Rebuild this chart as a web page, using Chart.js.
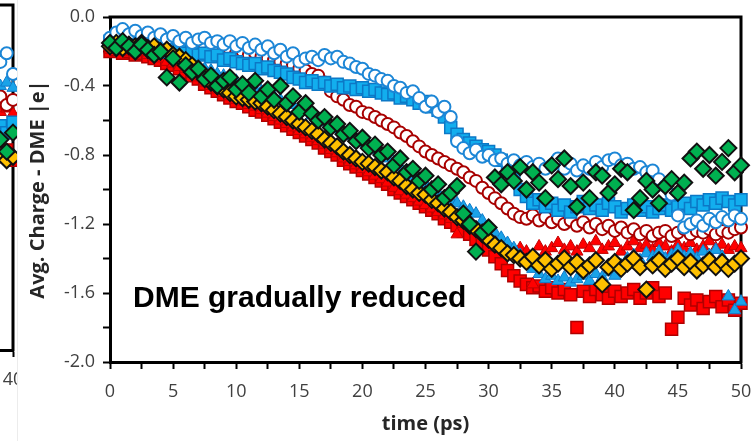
<!DOCTYPE html>
<html>
<head>
<meta charset="utf-8">
<script src="https://cdn.jsdelivr.net/npm/chart.js@4.4.1/dist/chart.umd.min.js"></script>
<style>
  html, body { margin: 0; padding: 0; background: #fff; }
  #wrap { position: relative; width: 753px; height: 441px; overflow: hidden; }
  #left { position: absolute; left: 0; top: 0; width: 17px; height: 441px; overflow: hidden; }
  #left canvas { position: absolute; left: -582px; top: 0; }
  #edge { position: absolute; left: 17px; top: 0; width: 1px; height: 441px; background: #ececec; }
  #main { position: absolute; left: 18px; top: 0; width: 735px; height: 441px; }
</style>
</head>
<body>
<div id="wrap">
  <div id="left"><canvas id="chart-left" width="600" height="441"></canvas></div>
  <div id="edge"></div>
  <div id="main"><canvas id="chart-main" width="735" height="441"></canvas></div>
</div>
<script>
// time axis, 0.5 ps steps
const times = [
  0, 0.5, 1, 1.5, 2, 2.5, 3, 3.5, 4, 4.5,
  5, 5.5, 6, 6.5, 7, 7.5, 8, 8.5, 9, 9.5,
  10, 10.5, 11, 11.5, 12, 12.5, 13, 13.5, 14, 14.5,
  15, 15.5, 16, 16.5, 17, 17.5, 18, 18.5, 19, 19.5,
  20, 20.5, 21, 21.5, 22, 22.5, 23, 23.5, 24, 24.5,
  25, 25.5, 26, 26.5, 27, 27.5, 28, 28.5, 29, 29.5,
  30, 30.5, 31, 31.5, 32, 32.5, 33, 33.5, 34, 34.5,
  35, 35.5, 36, 36.5, 37, 37.5, 38, 38.5, 39, 39.5,
  40, 40.5, 41, 41.5, 42, 42.5, 43, 43.5, 44, 44.5,
  45, 45.5, 46, 46.5, 47, 47.5, 48, 48.5, 49, 49.5,
  50
];

const greenDiamonds = [
  -0.15, -0.18, -0.14, -0.17, -0.20, -0.16, -0.19, -0.22, -0.20, -0.35,
  -0.24, -0.38, -0.28, -0.32, -0.30, -0.36, -0.34, -0.40, -0.37, -0.35,
  -0.42, -0.39, -0.44, -0.37, -0.46, -0.42, -0.48, -0.40, -0.50, -0.46,
  -0.55, -0.50, -0.56, -0.60, -0.58, -0.64, -0.62, -0.68, -0.66, -0.72,
  -0.70, -0.76, -0.74, -0.80, -0.78, -0.86, -0.82, -0.90, -0.88, -0.95,
  -0.92, -1.00, -0.97, -1.05, -1.02, -0.98, -1.14, -1.20, -1.36, -1.25,
  -1.22, -0.93, -0.97, -0.90, -0.95, -0.87, -1.00, -0.90, -0.96, -1.05,
  -0.86, -0.94, -0.82, -0.98, -1.10, -0.96, -1.05, -0.90, -0.92, -1.02,
  -0.97, -0.88, -0.90, -1.12, -1.05, -0.95, -1.00, -1.08, -0.98, -0.94,
  -1.02, -0.96, -0.82, -0.78, -0.88, -0.80, -0.92, -0.84, -0.76, -0.90,
  -0.86
];

const yellowDiamonds = [
  -0.17, -0.15, -0.18, -0.16, -0.17, -0.15, -0.18, -0.17, -0.20, -0.19,
  -0.22, -0.23, -0.25, -0.28, -0.31, -0.34, -0.38, -0.40, -0.42, -0.44,
  -0.46, -0.47, -0.48, -0.49, -0.50, -0.52, -0.54, -0.56, -0.58, -0.60,
  -0.62, -0.64, -0.66, -0.68, -0.71, -0.73, -0.75, -0.78, -0.80, -0.82,
  -0.84, -0.85, -0.87, -0.89, -0.90, -0.93, -0.95, -0.98, -1.00, -1.02,
  -1.03, -1.06, -1.08, -1.11, -1.13, -1.16, -1.18, -1.21, -1.23, -1.26,
  -1.29, -1.32, -1.34, -1.37, -1.38, -1.40, -1.42, -1.39, -1.44, -1.41,
  -1.46, -1.43, -1.40, -1.45, -1.42, -1.47, -1.44, -1.41, -1.55, -1.45,
  -1.42, -1.46, -1.43, -1.40, -1.45, -1.58, -1.44, -1.41, -1.46, -1.43,
  -1.40, -1.45, -1.42, -1.47, -1.44, -1.41, -1.45, -1.42, -1.46, -1.43,
  -1.40
];

const blueCircles = [
  -0.12, -0.09, -0.07, -0.10, -0.08, -0.11, -0.09, -0.12, -0.10, -0.13,
  -0.11, -0.14, -0.12, -0.15, -0.13, -0.12, -0.15, -0.14, -0.16, -0.14,
  -0.17, -0.15, -0.18, -0.16, -0.19, -0.17, -0.21, -0.19, -0.23, -0.21,
  -0.26, -0.24, -0.23, -0.25, -0.22, -0.24, -0.23, -0.26, -0.27, -0.29,
  -0.30, -0.33, -0.34, -0.36, -0.37, -0.40, -0.41, -0.44, -0.43, -0.47,
  -0.52, -0.49, -0.55, -0.52, -0.58, -0.72, -0.76, -0.79, -0.77, -0.81,
  -0.80, -0.83, -0.82, -0.85, -0.83, -0.86, -0.84, -0.87, -0.85, -0.88,
  -0.86, -0.82, -0.88, -0.85, -0.89, -0.86, -0.88, -0.84, -0.87, -0.83,
  -0.82, -0.86, -0.85, -0.88, -0.87, -0.90, -0.89, -0.94, -0.98, -1.03,
  -1.15, -1.22, -1.20, -1.18, -1.21, -1.17, -1.19, -1.16, -1.18, -1.15,
  -1.17
];

const blueTriangles = [
  -0.16, -0.14, -0.17, -0.16, -0.18, -0.17, -0.19, -0.20, -0.21, -0.22,
  -0.23, -0.24, -0.25, -0.27, -0.28, -0.30, -0.31, -0.33, -0.34, -0.36,
  -0.37, -0.39, -0.40, -0.42, -0.43, -0.45, -0.46, -0.48, -0.49, -0.51,
  -0.53, -0.55, -0.57, -0.59, -0.61, -0.63, -0.65, -0.67, -0.69, -0.71,
  -0.73, -0.74, -0.77, -0.79, -0.82, -0.84, -0.87, -0.89, -0.92, -0.94,
  -0.97, -0.99, -1.02, -1.04, -1.06, -1.08, -1.10, -1.12, -1.14, -1.18,
  -1.22, -1.25, -1.28, -1.31, -1.34, -1.38, -1.42, -1.46, -1.49, -1.52,
  -1.50, -1.53, -1.51, -1.54, -1.52, -1.50, -1.53, -1.49, -1.51, -1.48,
  -1.50, -1.44, -1.40, -1.38, -1.41, -1.37, -1.39, -1.36, -1.40, -1.38,
  -1.35, -1.39, -1.37, -1.40, -1.36, -1.38, -1.35, -1.39, -1.62, -1.70,
  -1.65
];

const blueSquares = [
  -0.14, -0.12, -0.15, -0.13, -0.16, -0.15, -0.17, -0.16, -0.18, -0.17,
  -0.20, -0.19, -0.21, -0.20, -0.22, -0.21, -0.23, -0.22, -0.25, -0.24,
  -0.26, -0.27, -0.28, -0.27, -0.30, -0.29, -0.31, -0.32, -0.33, -0.35,
  -0.36, -0.38, -0.37, -0.39, -0.38, -0.40, -0.39, -0.41, -0.40, -0.42,
  -0.41, -0.43, -0.42, -0.44, -0.45, -0.44, -0.47, -0.46, -0.48, -0.50,
  -0.49, -0.52, -0.54, -0.58, -0.64, -0.68, -0.71, -0.73, -0.75, -0.77,
  -0.78, -0.80, -0.83, -0.88, -0.94, -1.00, -1.04, -1.08, -1.06, -1.10,
  -1.08, -1.12, -1.09, -1.13, -1.10, -1.07, -1.11, -1.09, -1.12, -1.08,
  -1.10, -1.13, -1.11, -1.09, -1.12, -1.10, -1.13, -1.11, -1.09, -1.12,
  -1.10, -1.08, -1.11, -1.07, -1.09, -1.06, -1.08, -1.05, -1.07, -1.09,
  -1.06
];

const redCircles = [
  -0.13, -0.11, -0.12, -0.10, -0.13, -0.12, -0.14, -0.13, -0.15, -0.14,
  -0.16, -0.15, -0.17, -0.16, -0.18, -0.17, -0.19, -0.18, -0.20, -0.19,
  -0.21, -0.20, -0.22, -0.21, -0.23, -0.24, -0.25, -0.26, -0.27, -0.28,
  -0.30, -0.31, -0.33, -0.34, -0.38, -0.43, -0.46, -0.48, -0.51, -0.52,
  -0.55, -0.56, -0.58, -0.60, -0.62, -0.64, -0.67, -0.69, -0.72, -0.75,
  -0.78, -0.80, -0.82, -0.84, -0.86, -0.88, -0.90, -0.93, -0.95, -0.99,
  -1.02, -1.05, -1.08, -1.11, -1.14, -1.16, -1.17, -1.15, -1.18, -1.16,
  -1.19, -1.17, -1.20, -1.18, -1.21, -1.19, -1.22, -1.20, -1.23, -1.21,
  -1.24, -1.22, -1.25, -1.23, -1.26, -1.24, -1.27, -1.25, -1.24, -1.27,
  -1.25, -1.23, -1.26, -1.24, -1.25, -1.23, -1.26, -1.24, -1.25, -1.23,
  -1.22
];

const redTriangles = [
  -0.19, -0.17, -0.20, -0.19, -0.21, -0.20, -0.22, -0.23, -0.24, -0.26,
  -0.27, -0.29, -0.30, -0.33, -0.35, -0.38, -0.40, -0.42, -0.44, -0.46,
  -0.48, -0.49, -0.51, -0.52, -0.54, -0.56, -0.58, -0.60, -0.62, -0.64,
  -0.66, -0.68, -0.70, -0.72, -0.74, -0.77, -0.79, -0.82, -0.84, -0.86,
  -0.88, -0.90, -0.92, -0.94, -0.96, -0.99, -1.01, -1.03, -1.05, -1.07,
  -1.09, -1.11, -1.13, -1.15, -1.17, -1.26, -1.20, -1.22, -1.24, -1.26,
  -1.28, -1.30, -1.32, -1.33, -1.35, -1.34, -1.36, -1.55, -1.33, -1.36,
  -1.34, -1.31, -1.35, -1.33, -1.36, -1.32, -1.34, -1.30, -1.35, -1.33,
  -1.31, -1.36, -1.33, -1.30, -1.34, -1.32, -1.35, -1.31, -1.33, -1.36,
  -1.32, -1.34, -1.31, -1.35, -1.33, -1.30, -1.34, -1.32, -1.35, -1.33,
  -1.34
];

const redSquares = [
  -0.20, -0.19, -0.21, -0.20, -0.22, -0.21, -0.23, -0.24, -0.25, -0.27,
  -0.28, -0.30, -0.32, -0.34, -0.36, -0.39, -0.41, -0.43, -0.45, -0.47,
  -0.49, -0.50, -0.52, -0.54, -0.55, -0.57, -0.59, -0.61, -0.63, -0.65,
  -0.67, -0.69, -0.71, -0.73, -0.76, -0.78, -0.80, -0.83, -0.85, -0.87,
  -0.89, -0.91, -0.93, -0.95, -0.97, -1.00, -1.02, -1.04, -1.06, -1.08,
  -1.10, -1.12, -1.14, -1.17, -1.19, -1.21, -1.24, -1.26, -1.29, -1.32,
  -1.35, -1.39, -1.43, -1.47, -1.50, -1.53, -1.55, -1.57, -1.56, -1.59,
  -1.57, -1.60, -1.58, -1.61, -1.80, -1.59, -1.62, -1.58, -1.61, -1.63,
  -1.59, -1.62, -1.60, -1.58, -1.63, -1.60, -1.57, -1.62, -1.60, -1.81,
  -1.74, -1.63, -1.67, -1.64, -1.69, -1.65, -1.62, -1.68, -1.64, -1.70,
  -1.66
];

// the neighbouring panel, only its right edge is in the picture
const leftTimes = [39, 39.5, 40];
const leftGreen = [-0.78, -0.85, -0.74];
const leftYellow = [-0.86, -0.90, -0.88];
const leftBlueCircles = [-0.33, -0.28, -0.40];
const leftBlueTriangles = [-0.47, -0.45, -0.48];
const leftBlueSquares = [-0.70, -0.74, -0.68];
const leftRedCircles = [-0.53, -0.58, -0.55];
const leftRedTriangles = [-0.62, -0.60, -0.63];
const leftRedSquares = [-0.88, -0.84, -0.90];

const xTickValues = [0, 2.5, 5, 7.5, 10, 12.5, 15, 17.5, 20, 22.5, 25, 27.5, 30, 32.5, 35, 37.5, 40, 42.5, 45, 47.5, 50];
const xLabelValues = [0, 5, 10, 15, 20, 25, 30, 35, 40, 45, 50];
const yTickValues = [0, -0.2, -0.4, -0.6, -0.8, -1.0, -1.2, -1.4, -1.6, -1.8, -2.0];
const yLabelValues = [0, -0.4, -0.8, -1.2, -1.6, -2.0];

const xTitle = 'time (ps)';
const yTitle = 'Avg. Charge - DME |e|';
const noteText = 'DME gradually reduced';

const STYLES = {
  green:   { pointStyle: 'rectRot',  pointRadius: 8,   backgroundColor: '#00B050', borderColor: '#111', borderWidth: 2 },
  yellow:  { pointStyle: 'rectRot',  pointRadius: 8,   backgroundColor: '#FFC000', borderColor: '#111', borderWidth: 2 },
  bCircle: { pointStyle: 'circle',   pointRadius: 6,   backgroundColor: '#fff',    borderColor: '#1C86D6', borderWidth: 2 },
  bTri:    { pointStyle: 'triangle', pointRadius: 7,   backgroundColor: '#1AA3E8', borderColor: '#0E7ACB', borderWidth: 1 },
  bSquare: { pointStyle: 'rect',     pointRadius: 8.5, backgroundColor: '#12AEEE', borderColor: '#0C78C6', borderWidth: 1.5 },
  rCircle: { pointStyle: 'circle',   pointRadius: 6,   backgroundColor: '#fff',    borderColor: '#A80000', borderWidth: 2 },
  rTri:    { pointStyle: 'triangle', pointRadius: 7,   backgroundColor: '#FF0000', borderColor: '#C00000', borderWidth: 1 },
  rSquare: { pointStyle: 'rect',     pointRadius: 8.5, backgroundColor: '#FF0000', borderColor: '#B00000', borderWidth: 1.5 }
};

function series(label, xs, ys, style) {
  return Object.assign({
    label,
    data: xs.map((x, i) => ({ x, y: ys[i] })),
    clip: false,
    pointHoverRadius: style.pointRadius
  }, style);
}

// first dataset is drawn on top
function buildDatasets(xs, g, y, bc, bt, bs, rc, rt, rs) {
  return [
    series('green', xs, g, STYLES.green),
    series('yellow', xs, y, STYLES.yellow),
    series('blue circles', xs, bc, STYLES.bCircle),
    series('blue triangles', xs, bt, STYLES.bTri),
    series('blue squares', xs, bs, STYLES.bSquare),
    series('red circles', xs, rc, STYLES.rCircle),
    series('red triangles', xs, rt, STYLES.rTri),
    series('red squares', xs, rs, STYLES.rSquare)
  ];
}

const frame = {
  id: 'frame',
  beforeDatasetsDraw(chart) {
    const { ctx, chartArea: a } = chart;
    ctx.save();
    ctx.strokeStyle = '#000';
    ctx.lineWidth = 3;
    ctx.beginPath();
    ctx.moveTo(a.left - 1.5, a.top);
    ctx.lineTo(a.right, a.top);
    ctx.lineTo(a.right, a.bottom + 1.5);
    ctx.stroke();
    ctx.restore();
  }
};

const note = {
  id: 'note',
  afterDatasetsDraw(chart) {
    const { ctx, chartArea: a } = chart;
    ctx.save();
    ctx.font = 'bold 30px "Liberation Sans", Arial, sans-serif';
    ctx.fillStyle = '#000';
    ctx.textBaseline = 'alphabetic';
    ctx.fillText(noteText, a.left + 23, 307);
    ctx.restore();
  }
};

const tickFont = { family: 'Open Sans', size: 18 };
const titleFont = { family: 'Open Sans', size: 20, weight: 'bold' };

function xScale(min, max, ticks, height) {
  return {
    type: 'linear', min, max,
    afterBuildTicks: s => { s.ticks = ticks.map(v => ({ value: v })); },
    afterFit: s => { s.height = height; s.paddingLeft = 0; s.paddingRight = 0; },
    border: { color: '#000', width: 3 },
    grid: { drawOnChartArea: false, drawTicks: true, tickLength: 7, tickWidth: 2, tickColor: '#000' },
    ticks: {
      autoSkip: false, maxRotation: 0, padding: 12, color: '#404040', font: tickFont,
      callback: v => xLabelValues.includes(v) ? String(v) : ''
    }
  };
}

new Chart(document.getElementById('chart-main'), {
  type: 'scatter',
  data: {
    datasets: buildDatasets(times, greenDiamonds, yellowDiamonds, blueCircles, blueTriangles,
      blueSquares, redCircles, redTriangles, redSquares)
  },
  options: {
    responsive: false, animation: false, events: [],
    layout: { autoPadding: false, padding: { top: 17, right: 12, left: 0, bottom: 0 } },
    plugins: { legend: { display: false }, tooltip: { enabled: false } },
    scales: {
      x: Object.assign(xScale(0, 50, xTickValues, 79), {
        title: { display: true, text: xTitle, color: '#262626', font: titleFont, padding: { top: 0, bottom: 5 } }
      }),
      y: {
        type: 'linear', min: -2, max: 0,
        afterBuildTicks: s => { s.ticks = yTickValues.map(v => ({ value: v })); },
        afterFit: s => { s.width = 92; s.paddingTop = 0; s.paddingBottom = 0; },
        border: { color: '#000', width: 3 },
        grid: { drawOnChartArea: false, drawTicks: true, tickLength: 7, tickWidth: 2, tickColor: '#000' },
        ticks: {
          autoSkip: false, padding: 8, color: '#404040', font: tickFont,
          callback: v => yLabelValues.includes(v) ? v.toFixed(1) : ''
        },
        title: { display: true, text: yTitle, color: '#262626', font: titleFont, padding: { top: 8, bottom: 0 } }
      }
    }
  },
  plugins: [frame, note]
});

new Chart(document.getElementById('chart-left'), {
  type: 'scatter',
  data: {
    datasets: buildDatasets(leftTimes, leftGreen, leftYellow, leftBlueCircles, leftBlueTriangles,
      leftBlueSquares, leftRedCircles, leftRedTriangles, leftRedSquares)
  },
  options: {
    responsive: false, animation: false, events: [],
    layout: { autoPadding: false, padding: { top: 5, right: 5, left: 90, bottom: 0 } },
    plugins: { legend: { display: false }, tooltip: { enabled: false } },
    scales: {
      x: xScale(0, 40, [30, 35, 40], 91),
      y: { type: 'linear', min: -2, max: 0, display: false }
    }
  },
  plugins: [frame]
});
</script>
</body>
</html>
